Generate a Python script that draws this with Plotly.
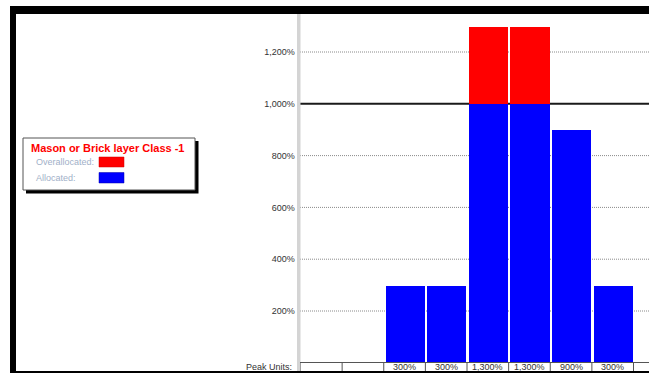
import plotly.graph_objects as go

# ---- data ----
periods = list(range(9))
allocated = [0, 0, 300, 300, 1000, 1000, 900, 300, 0]
overallocated = [0, 0, 0, 0, 300, 300, 0, 0, 0]
peak_units = ["", "", "300%", "300%", "1,300%", "1,300%", "900%", "300%", ""]
max_units = 1000
y_ticks = [200, 400, 600, 800, 1000, 1200]
y_tick_labels = ["200%", "400%", "600%", "800%", "1,000%", "1,200%"]
legend_title = "Mason or Brick layer Class -1"
legend_labels = ["Overallocated:", "Allocated:"]

W, H = 649, 373
def X(px):
    return px / W
def Y(py):
    return 1 - py / H

FONT = "Liberation Sans, Arial, sans-serif"
BLUE = "#0000FF"
RED = "#FF0000"

fig = go.Figure()
fig.add_trace(go.Bar(x=periods, y=allocated, marker=dict(color=BLUE, line=dict(width=0)),
                     width=0.94, name="Allocated", hoverinfo="skip"))
fig.add_trace(go.Bar(x=periods, y=overallocated, marker=dict(color=RED, line=dict(width=0)),
                     width=0.94, name="Overallocated", hoverinfo="skip"))

shapes = []
# gridlines (dotted) and the max-units line (solid)
for v in y_ticks:
    if v == max_units:
        shapes.append(dict(type="line", xref="paper", yref="y", x0=X(300), x1=1, y0=v, y1=v,
                           line=dict(color="#1a1a1a", width=2), layer="below"))
    else:
        shapes.append(dict(type="line", xref="paper", yref="y", x0=X(300), x1=1, y0=v, y1=v,
                           line=dict(color="#8a8a8a", width=1, dash="1px,1px"), layer="below"))
# vertical gray separator
shapes.append(dict(type="rect", xref="paper", yref="paper", x0=X(297), x1=X(300.5), y0=Y(373), y1=Y(14),
                   fillcolor="#d4d4d4", line=dict(width=0), layer="above"))
# peak units row: top border
shapes.append(dict(type="line", xref="paper", yref="paper", x0=X(300), x1=1, y0=Y(362.5), y1=Y(362.5),
                   line=dict(color="#555555", width=1)))
# peak units row cell dividers
for k in range(len(periods) + 1):
    shapes.append(dict(type="line", xref="x", yref="paper", x0=k - 0.5, x1=k - 0.5,
                       y0=Y(371), y1=Y(362.5), line=dict(color="#555555", width=1)))
# frame bars
shapes.append(dict(type="rect", xref="paper", yref="paper", x0=X(10), x1=1, y0=Y(14), y1=Y(6),
                   fillcolor="black", line=dict(width=0), layer="above"))
shapes.append(dict(type="rect", xref="paper", yref="paper", x0=X(10), x1=X(16), y0=0, y1=Y(6),
                   fillcolor="black", line=dict(width=0), layer="above"))
shapes.append(dict(type="rect", xref="paper", yref="paper", x0=X(10), x1=1, y0=0, y1=Y(371),
                   fillcolor="black", line=dict(width=0), layer="above"))
# legend box with shadow
shapes.append(dict(type="rect", xref="paper", yref="paper", x0=X(26), x1=X(198.5), y0=Y(193.5), y1=Y(141),
                   fillcolor="black", line=dict(width=0), layer="above"))
shapes.append(dict(type="rect", xref="paper", yref="paper", x0=X(23), x1=X(195), y0=Y(190), y1=Y(138),
                   fillcolor="white", line=dict(color="#555555", width=1), layer="above"))
# legend swatches
shapes.append(dict(type="rect", xref="paper", yref="paper", x0=X(99), x1=X(124), y0=Y(167), y1=Y(157),
                   fillcolor=RED, line=dict(color="#cc0000", width=0.5), layer="above"))
shapes.append(dict(type="rect", xref="paper", yref="paper", x0=X(99), x1=X(124), y0=Y(183), y1=Y(172.5),
                   fillcolor=BLUE, line=dict(color="#0000aa", width=0.5), layer="above"))

annotations = []
annotations.append(dict(text="<b>" + legend_title + "</b>", xref="paper", yref="paper", x=X(29), y=Y(148),
                        xanchor="left", yanchor="middle", showarrow=False,
                        font=dict(family=FONT, size=11, color=RED)))
for lbl, py in zip(legend_labels, [162, 178]):
    annotations.append(dict(text=lbl, xref="paper", yref="paper", x=X(34), y=Y(py),
                            xanchor="left", yanchor="middle", showarrow=False,
                            font=dict(family=FONT, size=9, color="#9fb0c8")))
annotations.append(dict(text="Peak Units:", xref="paper", yref="paper", x=X(294), y=Y(366.5),
                        xanchor="right", yanchor="middle", showarrow=False,
                        font=dict(family=FONT, size=9, color="#333333")))
for k, txt in zip(periods, peak_units):
    if txt:
        annotations.append(dict(text=txt, xref="x", yref="paper", x=k, y=Y(366.5),
                                xanchor="center", yanchor="middle", showarrow=False,
                                font=dict(family=FONT, size=9, color="#333333")))

y0px, ytop = 362.8, 14.5
ppu = (362.8 - 52) / 1200.0
yr_top = (y0px - ytop) / ppu
col_w = (634 - 301) / 8.0
xr_right = -0.5 + (W - 300.5) / col_w

fig.update_layout(
    width=W, height=H,
    margin=dict(l=0, r=0, t=0, b=0),
    paper_bgcolor="white", plot_bgcolor="white",
    barmode="stack", bargap=0, showlegend=False, hovermode=False,
    shapes=shapes, annotations=annotations,
    font=dict(family=FONT),
    xaxis=dict(domain=[X(300.5), 1], range=[-0.5, xr_right], showgrid=False, zeroline=False,
               showticklabels=False, ticks="", showline=False, fixedrange=True),
    yaxis=dict(domain=[Y(y0px), Y(ytop)], range=[0, yr_top], tickvals=y_ticks, ticktext=y_tick_labels,
               ticks="outside", ticklen=3, tickcolor="#444444",
               tickfont=dict(family=FONT, size=9, color="#333333"),
               showgrid=False, zeroline=False, showline=False, fixedrange=True),
)

fig.write_html("out.html", config={"displayModeBar": False},
               post_script="document.body.style.margin='0';document.body.style.overflow='hidden';")
